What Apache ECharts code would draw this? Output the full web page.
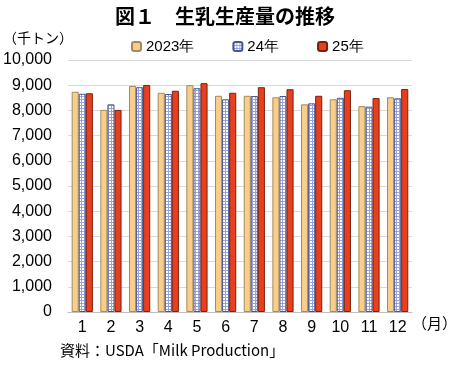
<!DOCTYPE html>
<html><head><meta charset="utf-8">
<script src="https://cdn.jsdelivr.net/npm/echarts@6/dist/echarts.min.js"></script>
<style>html,body{margin:0;padding:0;background:#fff}#c{width:450px;height:365px}</style>
</head><body><div id="c"></div>
<script>
const months = ['1','2','3','4','5','6','7','8','9','10','11','12'];
const seriesNames = ['2023年','24年','25年'];
const y2023 = [8740,8020,8970,8700,9000,8580,8580,8520,8240,8440,8170,8520];
const y2024 = [8660,8240,8920,8650,8880,8440,8570,8570,8280,8500,8150,8480];
const y2025 = [8680,8020,9010,8780,9080,8700,8920,8840,8580,8800,8490,8850];

function makePattern(){
  const c = document.createElement('canvas');
  c.width = 3; c.height = 3;
  const g = c.getContext('2d');
  g.fillStyle = '#ffffff'; g.fillRect(0,0,3,3);
  g.fillStyle = '#97a3de';
  g.fillRect(0,0,3,1); g.fillRect(0,0,1,3);
  return c;
}
const jp = '"Noto Sans CJK JP", sans-serif';
const num = '"Liberation Sans", Arial, sans-serif';
const chart = echarts.init(document.getElementById('c'), null, {renderer:'canvas'});
chart.setOption({
  animation:false,
  title:{text:'図１　生乳生産量の推移', left:'center', top:1, textStyle:{fontFamily:jp, fontSize:20, fontWeight:'bold', color:'#000'}},
  legend:{top:34, left:126, itemWidth:9, itemHeight:9, itemGap:38,
    textStyle:{fontFamily:num, fontSize:15, color:'#000'},
    data:seriesNames},
  grid:{left:64, right:38, top:60, bottom:53},
  xAxis:{type:'category', data:months,
    axisLine:{lineStyle:{color:'#bfbfbf'}}, axisTick:{show:false},
    axisLabel:{fontFamily:num, fontSize:16, color:'#000', margin:8}},
  yAxis:{type:'value', min:0, max:10000, interval:1000,
    axisLine:{show:false}, axisTick:{show:false},
    splitLine:{lineStyle:{color:'#d9d9d9'}},
    axisLabel:{fontFamily:num, fontSize:16, color:'#000', margin:16,
      formatter:v=>v.toLocaleString('en-US')}},
  graphic:[
    {type:'text', left:3, top:31, style:{text:'（千トン）', font:'14px '+jp, fill:'#000'}},
    {type:'text', left:412, top:316, style:{text:'（月）', font:'15px '+jp, fill:'#000'}},
    {type:'text', left:60, top:343, style:{text:'資料：USDA「Milk Production」', font:'15px '+jp, fill:'#000'}}
  ],
  series:[
    {name:seriesNames[0], type:'bar', data:y2023, barGap:'0%', barCategoryGap:'26%',
      itemStyle:{color:'#f8cf8a', borderColor:'#a68a5c', borderWidth:1}},
    {name:seriesNames[1], type:'bar', data:y2024,
      itemStyle:{color:{image:makePattern(), repeat:'repeat'}, borderColor:'#4a5590', borderWidth:1}},
    {name:seriesNames[2], type:'bar', data:y2025,
      itemStyle:{color:'#e8401c', borderColor:'#7a2010', borderWidth:1}}
  ]
});
</script></body></html>
